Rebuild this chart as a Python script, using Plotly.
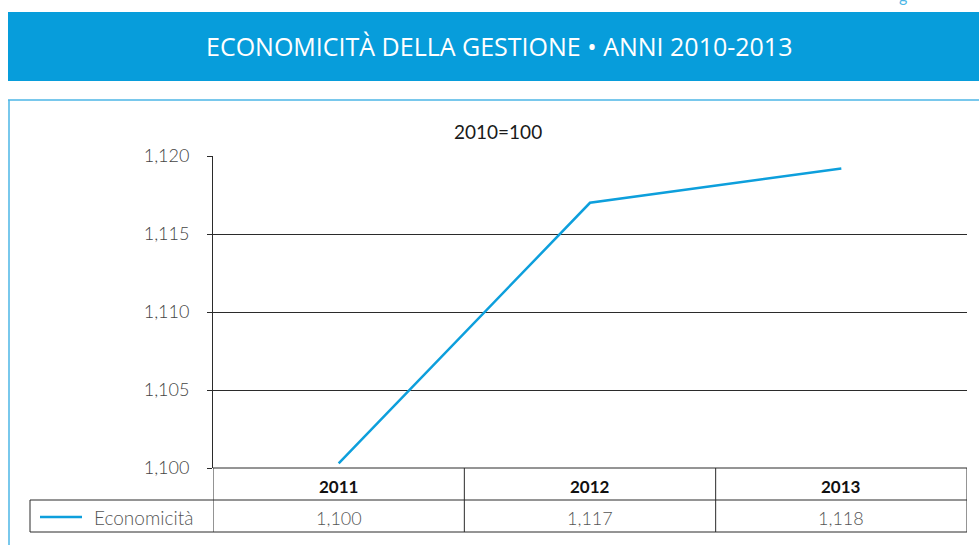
import plotly.graph_objects as go

W, H = 979, 545

# ---- data ----
years = ["2011", "2012", "2013"]
economicita = [1.1003, 1.1170, 1.1192]
table_labels = ["1,100", "1,117", "1,118"]
series_name = "Economicità"
y_ticks = [1.100, 1.105, 1.110, 1.115, 1.120]

title = "ECONOMICITÀ DELLA GESTIONE • ANNI 2010-2013"
subtitle = "2010=100"

BLUE = "#079ddb"
LINE_BLUE = "#0d9fdc"
BORDER_BLUE = "#4cb6e6"
DARK = "#2b2b2b"
GRAY = "#555555"
FONT = "Lato"


def px(x):
    return x / W


def py(y):
    return 1 - y / H


fig = go.Figure()
fig.add_trace(go.Scatter(
    x=years, y=economicita, mode="lines", name=series_name,
    line=dict(color=LINE_BLUE, width=2.5), showlegend=False,
    hoverinfo="x+y",
))

shapes = []
annotations = []

# Header banner
shapes.append(dict(type="rect", xref="paper", yref="paper",
                   x0=px(8), x1=1.0, y0=py(81), y1=py(12),
                   fillcolor=BLUE, line=dict(width=0), layer="below"))
annotations.append(dict(text=title, xref="paper", yref="paper",
                        x=px(499), y=py(46), xanchor="center", yanchor="middle",
                        showarrow=False,
                        font=dict(family="Open Sans", size=25, color="white")))
# small cut-off letter at top edge
annotations.append(dict(text="g", xref="paper", yref="paper",
                        x=px(903), y=py(-5), xanchor="center", yanchor="middle",
                        showarrow=False,
                        font=dict(family=FONT, size=16, color=BORDER_BLUE)))

# Box border
shapes.append(dict(type="line", xref="paper", yref="paper",
                   x0=px(8), x1=1.0, y0=py(100), y1=py(100),
                   line=dict(color=BORDER_BLUE, width=1.5)))
shapes.append(dict(type="line", xref="paper", yref="paper",
                   x0=px(9), x1=px(9), y0=py(100), y1=0,
                   line=dict(color=BORDER_BLUE, width=1.5)))

# Subtitle
annotations.append(dict(text=subtitle, xref="paper", yref="paper",
                        x=px(498), y=py(131), xanchor="center", yanchor="middle",
                        showarrow=False,
                        font=dict(family=FONT, size=19, color="#1a1a1a")))

# Data table below the plot
row1_top, row1_bot, row2_bot = 468, 500, 532
n = len(years)
shapes.append(dict(type="line", xref="x", yref="paper",
                   x0=-0.5, x1=n - 0.5, y0=py(row1_top), y1=py(row1_top),
                   line=dict(color=DARK, width=1)))
for yy in (row1_bot, row2_bot):
    shapes.append(dict(type="line", xref="paper", yref="paper",
                       x0=px(30), x1=px(967), y0=py(yy), y1=py(yy),
                       line=dict(color=DARK, width=1)))
for i in range(n + 1):
    shapes.append(dict(type="line", xref="x", yref="paper",
                       x0=i - 0.5, x1=i - 0.5, y0=py(row2_bot), y1=py(row1_top),
                       line=dict(color=DARK, width=1)))
shapes.append(dict(type="line", xref="paper", yref="paper",
                   x0=px(30), x1=px(30), y0=py(row2_bot), y1=py(row1_bot),
                   line=dict(color=DARK, width=1)))
# legend key
shapes.append(dict(type="line", xref="paper", yref="paper",
                   x0=px(40), x1=px(82), y0=py(517), y1=py(517),
                   line=dict(color=LINE_BLUE, width=2.5)))
annotations.append(dict(text=series_name, xref="paper", yref="paper",
                        x=px(92), y=py(517), xanchor="left", yanchor="middle",
                        showarrow=False,
                        font=dict(family=FONT, size=19, color=GRAY, weight=300)))
for i, (yr, lab) in enumerate(zip(years, table_labels)):
    annotations.append(dict(text=yr, xref="x", yref="paper",
                            x=i, y=py(486), xanchor="center", yanchor="middle",
                            showarrow=False,
                            font=dict(family=FONT, size=17, color="#111111", weight=700)))
    annotations.append(dict(text=lab, xref="x", yref="paper",
                            x=i, y=py(518), xanchor="center", yanchor="middle",
                            showarrow=False,
                            font=dict(family=FONT, size=18, color=GRAY, weight=300)))

fig.update_layout(
    width=W, height=H,
    margin=dict(l=0, r=0, t=0, b=0, pad=0, autoexpand=False),
    paper_bgcolor="white", plot_bgcolor="white",
    separators=",.",
    shapes=shapes, annotations=annotations,
    xaxis=dict(domain=[px(213), px(967)], type="category",
               range=[-0.5, n - 0.5], showticklabels=False, automargin=False,
               showgrid=False, zeroline=False, showline=False, ticks=""),
    yaxis=dict(domain=[py(468), py(156)], range=[1.100, 1.120],
               tickvals=y_ticks, tickformat=".3f", automargin=False,
               showgrid=True, gridcolor=DARK, gridwidth=1,
               showline=True, linecolor=DARK, linewidth=1,
               ticks="outside", ticklen=5, tickcolor=DARK,
               ticklabelstandoff=14,
               zeroline=False,
               tickfont=dict(family=FONT, size=18, color="#444444", weight=300)),
    showlegend=False,
)

fig.write_html(
    "out.html",
    config={"displayModeBar": False},
    post_script="document.body.style.margin='0';document.body.style.overflow='hidden';",
)
